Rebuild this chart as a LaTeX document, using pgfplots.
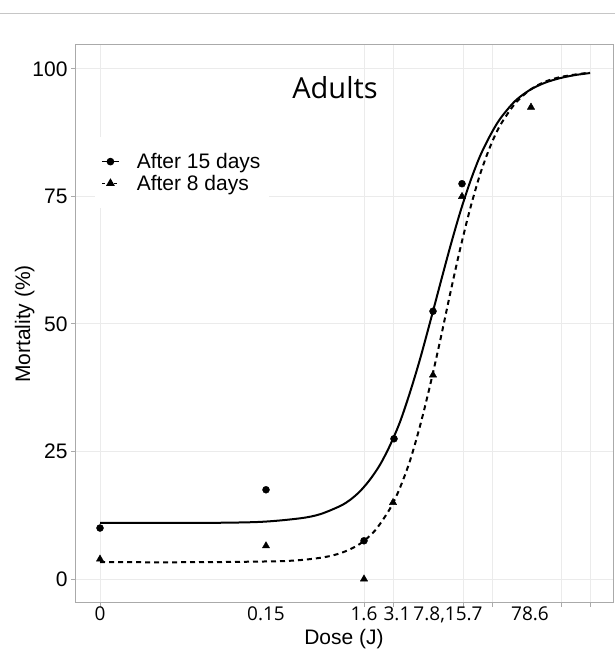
\documentclass[border=0pt]{standalone}
\usepackage{pgfplots}
\pgfplotsset{compat=1.18}
\usepackage{fontspec}
\setmainfont{Liberation Sans}
\newfontfamily\segoe{Open Sans}

\definecolor{gridgray}{RGB}{235,235,235}
\definecolor{framegray}{RGB}{170,170,170}

\begin{document}
\begin{tikzpicture}[x=1pt,y=1pt]
\useasboundingbox (0,0) rectangle (615,650);
\draw[color=gray!45, line width=1pt] (0,636) -- (615,636);
\begin{axis}[
    at={(75pt,47pt)}, anchor=south west,
    scale only axis,
    width=538pt, height=558pt,
    xmin=75, xmax=613,
    ymin=-4.7, ymax=104.7,
    axis line style={framegray, line width=1pt},
    xtick={100,364,393,463,492,561,590},
    xticklabels={},
    extra x ticks={100,266,364,397,448,530},
    extra x tick labels={0,0.15,1.6,3.1,{7.8,15.7},78.6},
    extra x tick style={major tick length=0pt, grid=none,
        tick label style={font=\segoe\fontsize{19}{22}\selectfont}},
    ytick={0,25,50,75,100},
    tick align=outside,
    major tick length=4pt,
    tick style={framegray, line width=1pt},
    tick pos=left,
    grid=major,
    major grid style={gridgray, line width=1pt},
    tick label style={font=\fontsize{21}{24}\selectfont, black},
    /pgf/number format/assume math mode=true,
    xlabel={Dose (J)},
    ylabel={Mortality (\%)},
    label style={font=\fontsize{21}{24}\selectfont},
    xlabel style={yshift=4pt},
    ylabel style={yshift=-9pt},
    legend style={at={(0.037,0.835)}, anchor=north west, draw=none,
        fill=white, font=\fontsize{21}{24}\selectfont,
        inner xsep=6pt, inner ysep=14pt,
        row sep=1pt,
        /tikz/every odd column/.append style={column sep=15pt}},
    legend cell align=left,
    clip=false,
]
% fitted curve, after 15 days
\addplot[forget plot, black, line width=2pt, smooth] coordinates {
    (100,11.0) (200,11.0) (260,11.2) (300,11.9) (320,12.7) (340,14.3)
    (350,15.5) (360,17.2) (370,19.5) (380,22.4) (390,26.2) (400,30.8)
    (410,36.6) (420,43.1) (430,50.3) (440,57.7) (450,65.0) (460,71.8)
    (470,77.8) (480,82.9) (490,86.9) (500,90.2) (515,93.7) (530,95.9)
    (545,97.3) (560,98.2) (575,98.8) (590,99.2)
};
% fitted curve, after 8 days
\addplot[forget plot, black, line width=2pt, dash pattern=on 5pt off 4pt, smooth] coordinates {
    (100,3.3) (200,3.3) (280,3.5) (310,3.9) (330,4.5) (345,5.4)
    (360,6.9) (375,9.5) (390,13.8) (400,17.9) (410,23.2) (420,30.0)
    (430,37.9) (440,46.6) (450,55.8) (460,64.6) (470,72.5) (480,79.3)
    (490,84.7) (500,88.9) (515,93.2) (530,95.9) (545,97.5) (560,98.4)
    (575,98.9) (590,99.3)
};
% observed, after 15 days
\addplot[forget plot, only marks, mark=*, mark size=3.5pt, black] coordinates {
    (100,10) (266,17.5) (364,7.5) (394,27.5) (433,52.5) (462,77.5)
};
% observed, after 8 days
\addplot[forget plot, only marks, mark=triangle*, mark size=4.2pt, black] coordinates {
    (100,3.9) (266,6.5) (364,0) (393,15) (433,40) (462,75) (531,92.5)
};
\addlegendimage{black, line width=1.6pt, mark=*, mark size=3pt}
\addlegendentry{After 15 days}
\addlegendimage{black, line width=1.6pt, dash pattern=on 3pt off 3pt, mark=triangle*, mark size=3.5pt, mark options={solid}}
\addlegendentry{After 8 days}
\node[font=\segoe\fontsize{29}{32}\selectfont] at (axis cs:335,96.3) {Adults};
\end{axis}
\end{tikzpicture}
\end{document}
